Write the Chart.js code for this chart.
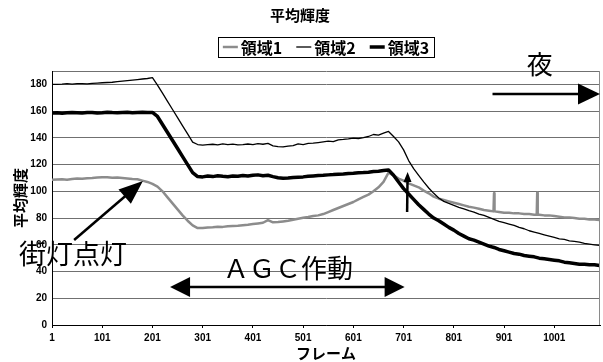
<!DOCTYPE html>
<html>
<head>
<meta charset="utf-8">
<script src="https://cdn.jsdelivr.net/npm/chart.js@4/dist/chart.umd.min.js"></script>
<style>
  body { margin: 0; background: #fff; }
  #wrap { width: 603px; height: 362px; }
</style>
</head>
<body>
<div id="wrap"><canvas id="chartLuma" width="603" height="362"></canvas></div>
<script>
// ============================================================
// データ (フレーム毎の平均輝度, 10フレーム間隔で読み取り)
// ============================================================
const frames = [
  1, 11, 21, 31, 41, 51, 61, 71, 81, 91,
  101, 111, 121, 131, 141, 151, 161, 171, 181, 191,
  201, 211, 221, 231, 241, 251, 261, 271, 281, 291,
  301, 311, 321, 331, 341, 351, 361, 371, 381, 391,
  401, 411, 421, 431, 441, 451, 461, 471, 481, 491,
  501, 511, 521, 531, 541, 551, 561, 571, 581, 591,
  601, 611, 621, 631, 641, 651, 661, 671, 681, 691,
  701, 711, 721, 731, 741, 751, 761, 771, 781, 791,
  801, 811, 821, 831, 841, 851, 861, 871, 881, 891,
  901, 911, 921, 931, 941, 951, 961, 971, 981, 991,
  1001, 1011, 1021, 1031, 1041, 1051, 1061, 1071, 1081, 1091
];

const seriesNames = ['領域1', '領域2', '領域3'];

// 領域1 (灰色)
const area1 = [
  108.6, 108.8, 109, 108.7, 109.2, 109.5, 109.4, 109.8, 110, 110.3,
  110.6, 110.5, 110.2, 110.4, 110, 109.6, 109.2, 109, 108, 107,
  105.5, 103.5, 100, 95.5, 91, 86.5, 82, 78, 74.5, 72.5,
  72.5, 73, 73.2, 73.5, 73.4, 73.8, 74, 74.2, 74.6, 75,
  75.5, 76, 76.5, 78.5, 76.8, 77, 77.5, 78, 78.8, 79.5,
  80.2, 80.8, 81.5, 82, 83, 84.5, 86, 87.5, 89, 90.5,
  92, 94, 95.8, 97.5, 100, 103, 107, 114, 112, 109.5,
  108, 106, 104.5, 103, 100.5, 98.5, 96, 94.5, 93.5, 92.5,
  91.5, 90.5, 89.5, 88.5, 87.8, 87, 86, 85.5, 85, 84.5,
  84, 84, 83.5, 83.5, 83, 83, 82.5, 82.5, 82, 82,
  81.5, 81, 80.5, 80.5, 80, 79.5, 79.5, 79, 79, 78.5
];
// 領域1 のノイズ (細いスパイク) [フレーム, 値]
const area1Spikes = [[880, 85], [881, 98.5], [882, 85], [966, 82.5], [967, 99], [968, 82.5]];

// 領域2 (細線)
const area2 = [
  180, 180, 180.2, 180.5, 180.2, 180.5, 180.6, 180.4, 180.8, 181,
  181.2, 181.4, 181.6, 182, 182.4, 182.8, 183.2, 183.6, 184, 184.4,
  185, 179.5, 173.4, 167.3, 161.2, 155.1, 149, 142.9, 136.8, 135,
  134.5, 135, 135.2, 134.8, 135.5, 135, 135.3, 134.7, 135, 135.4,
  135, 135.6, 135.2, 135.8, 134, 133.5, 133.2, 133.8, 134.2, 135.5,
  135, 135.8, 136, 136.5, 137, 137.5, 137.2, 138.5, 138.8, 139.2,
  139.8, 139.5, 140.2, 141, 142.5, 142, 143.5, 144.8, 141, 137,
  131, 123, 117, 112, 107, 102.5, 98.5, 95, 92.5, 91,
  89.5, 88, 86.8, 85.5, 84.5, 83, 82, 80.5, 79, 77.5,
  76.5, 75.5, 74.5, 73, 72, 70.5, 69.5, 68.5, 67.5, 66.5,
  65.5, 64.5, 64, 63, 62.5, 62, 61, 60.5, 60, 59.5
];

// 領域3 (太線)
const area3 = [
  158.6, 158.8, 158.4, 158.7, 159, 158.8, 158.5, 158.9, 159, 158.6,
  158.8, 159.2, 158.9, 158.7, 159, 159.2, 158.8, 159, 159.1, 158.9,
  159, 156, 150, 144, 138, 132, 126, 120, 114, 111,
  110.8, 111.4, 111, 111.6, 111.2, 110.9, 111.5, 111.3, 111.8, 111.4,
  112, 112.3, 111.6, 112, 111, 110.2, 109.8, 110, 110.4, 110.6,
  110.8, 111.2, 111.5, 111.8, 112, 112.3, 112.5, 112.8, 113, 113.3,
  113.5, 113.8, 114, 114.3, 114.8, 115, 115.5, 116, 112, 107,
  102, 98, 94, 90, 86.5, 83, 80, 78, 75.5, 73,
  71, 68.5, 66.5, 64.5, 63.5, 62, 60.5, 59, 58, 56.5,
  55.5, 54.5, 53.5, 53, 52, 51.5, 51, 50, 49.5, 49,
  48.5, 48, 47, 46.5, 46, 45.5, 45.5, 45, 45, 44.5
];

const xTicks = [1, 101, 201, 301, 401, 501, 601, 701, 801, 901, 1001];
const yTicks = [0, 20, 40, 60, 80, 100, 120, 140, 160, 180];

const JP = '"Noto Sans CJK JP", "Noto Sans CJK SC", sans-serif';

// ============================================================
// 系列の組み立て
// ============================================================
function toPoints(vals) {
  return frames.map((f, i) => ({ x: f, y: vals[i] }));
}
function withSpikes(vals, spikes) {
  const spikeFrames = spikes.map(s => s[0]);
  const pts = toPoints(vals).filter(p => !spikeFrames.includes(p.x));
  spikes.forEach(s => pts.push({ x: s[0], y: s[1] }));
  return pts.sort((a, b) => a.x - b.x);
}

// ============================================================
// 矢印・注記・凡例 (自前描画)
// ============================================================
function drawArrowHead(ctx, x1, y1, x2, y2, len, wid) {
  const ang = Math.atan2(y2 - y1, x2 - x1);
  const bx = x2 - Math.cos(ang) * len, by = y2 - Math.sin(ang) * len;
  const nx = -Math.sin(ang) * wid / 2, ny = Math.cos(ang) * wid / 2;
  ctx.beginPath();
  ctx.moveTo(x2, y2);
  ctx.lineTo(bx + nx, by + ny);
  ctx.lineTo(bx - nx, by - ny);
  ctx.closePath();
  ctx.fill();
}
function drawArrow(ctx, x1, y1, x2, y2, len, wid, lw, both) {
  const ang = Math.atan2(y2 - y1, x2 - x1);
  ctx.lineWidth = lw;
  ctx.beginPath();
  ctx.moveTo(both ? x1 + Math.cos(ang) * len * 0.8 : x1, both ? y1 + Math.sin(ang) * len * 0.8 : y1);
  ctx.lineTo(x2 - Math.cos(ang) * len * 0.8, y2 - Math.sin(ang) * len * 0.8);
  ctx.stroke();
  drawArrowHead(ctx, x1, y1, x2, y2, len, wid);
  if (both) drawArrowHead(ctx, x2, y2, x1, y1, len, wid);
}

const notesPlugin = {
  id: 'notes',
  afterDraw(chart) {
    const { ctx, chartArea: ca, scales: { x, y } } = chart;
    const px = v => x.getPixelForValue(v);
    const py = v => y.getPixelForValue(v);
    ctx.save();

    // 右枠
    ctx.strokeStyle = '#8a8a8a';
    ctx.lineWidth = 1;
    ctx.beginPath();
    ctx.moveTo(ca.right - 0.5, ca.top);
    ctx.lineTo(ca.right - 0.5, ca.bottom);
    ctx.stroke();

    // 凡例
    ctx.font = 'bold 16px ' + JP;
    ctx.textBaseline = 'middle';
    ctx.textAlign = 'left';
    const sampleW = 15, gap = 3, spacing = 14;
    const items = chart.data.datasets.map(ds => ({
      label: ds.label, color: ds.borderColor, lw: ds.borderWidth,
      tw: ctx.measureText(ds.label).width
    }));
    const total = items.reduce((s, it) => s + sampleW + gap + it.tw, 0) + spacing * (items.length - 1);
    let cx = (ca.left + ca.right) / 2 - total / 2;
    const cy = 47;
    ctx.strokeStyle = '#000';
    ctx.lineWidth = 1;
    ctx.strokeRect(Math.round(cx - 5) + 0.5, cy - 10 + 0.5, Math.round(total + 10), 20);
    items.forEach(it => {
      ctx.strokeStyle = it.color;
      ctx.lineWidth = it.lw;
      ctx.beginPath();
      ctx.moveTo(cx, cy);
      ctx.lineTo(cx + sampleW, cy);
      ctx.stroke();
      ctx.fillStyle = '#000';
      ctx.fillText(it.label, cx + sampleW + gap, cy + 1);
      cx += sampleW + gap + it.tw + spacing;
    });

    // 注記
    ctx.fillStyle = '#000';
    ctx.strokeStyle = '#000';
    ctx.textAlign = 'center';
    ctx.font = '26px ' + JP;
    ctx.fillText('夜', px(972), py(195));
    drawArrow(ctx, px(878), py(172.8), px(1092), py(172.8), 22, 21, 2.5, false);

    ctx.font = '27px ' + JP;
    ctx.fillText('街灯点灯', px(43), py(53));
    drawArrow(ctx, px(45), py(63.6), px(182), py(107.7), 24, 19, 2.5, false);

    ctx.font = '26px ' + JP;
    ctx.fillText('ＡＧＣ作動', px(471), py(42.6));
    drawArrow(ctx, px(236), py(28.4), px(703), py(28.4), 20, 20, 2.5, true);

    drawArrow(ctx, px(708), py(84.5), px(709), py(114.4), 10, 8, 2.5, false);
    ctx.restore();
  }
};

// ============================================================
// グラフ
// ============================================================
Chart.defaults.font.family = '"Liberation Sans", Arial, sans-serif';
Chart.defaults.color = '#000';

new Chart(document.getElementById('chartLuma').getContext('2d'), {
  type: 'line',
  data: {
    datasets: [
      { label: seriesNames[0], data: withSpikes(area1, area1Spikes), borderColor: '#8c8c8c', borderWidth: 2.5, order: 3 },
      { label: seriesNames[1], data: toPoints(area2), borderColor: '#000000', borderWidth: 1.3, order: 2 },
      { label: seriesNames[2], data: toPoints(area3), borderColor: '#000000', borderWidth: 3.5, order: 1 }
    ]
  },
  options: {
    responsive: false,
    animation: false,
    devicePixelRatio: 1,
    layout: { padding: { left: 0, right: 3, top: 0, bottom: 0 } },
    elements: { point: { radius: 0 }, line: { tension: 0, borderJoinStyle: 'round' } },
    plugins: {
      legend: { display: false },
      tooltip: { enabled: false },
      title: {
        display: true, text: '平均輝度', color: '#000',
        font: { family: JP, size: 15, weight: 'bold' },
        padding: { top: 6, bottom: 47 }
      }
    },
    scales: {
      x: {
        type: 'linear', min: 1, max: 1092,
        afterBuildTicks: s => { s.ticks = xTicks.map(v => ({ value: v })); },
        afterFit: s => { s.height = 37; },
        ticks: {
          autoSkip: false, maxRotation: 0, padding: 4, color: '#000',
          font: { family: '"Liberation Sans Narrow", "Liberation Sans", sans-serif', size: 10, weight: 'bold' },
          callback: v => String(v)
        },
        grid: { drawOnChartArea: false, tickLength: 3, color: '#000' },
        border: { color: '#000', width: 1 },
        title: {
          display: true, text: 'フレーム', color: '#000',
          font: { family: JP, size: 15, weight: 'bold' },
          padding: { top: 0, bottom: 0 }
        }
      },
      y: {
        min: 0, max: 190,
        afterBuildTicks: s => { s.ticks = yTicks.concat([190]).map(v => ({ value: v })); },
        afterFit: s => { s.width = 52; },
        ticks: {
          padding: 5, color: '#000',
          font: { size: 10, weight: 'bold' },
          callback: v => (yTicks.includes(v) ? String(v) : '')
        },
        grid: { color: '#707070', drawTicks: false },
        border: { color: '#000', width: 1 },
        title: {
          display: true, text: '平均輝度', color: '#000',
          font: { family: JP, size: 15, weight: 'bold' },
          padding: { top: 11, bottom: 0 }
        }
      }
    }
  },
  plugins: [notesPlugin]
});
</script>
</body>
</html>
